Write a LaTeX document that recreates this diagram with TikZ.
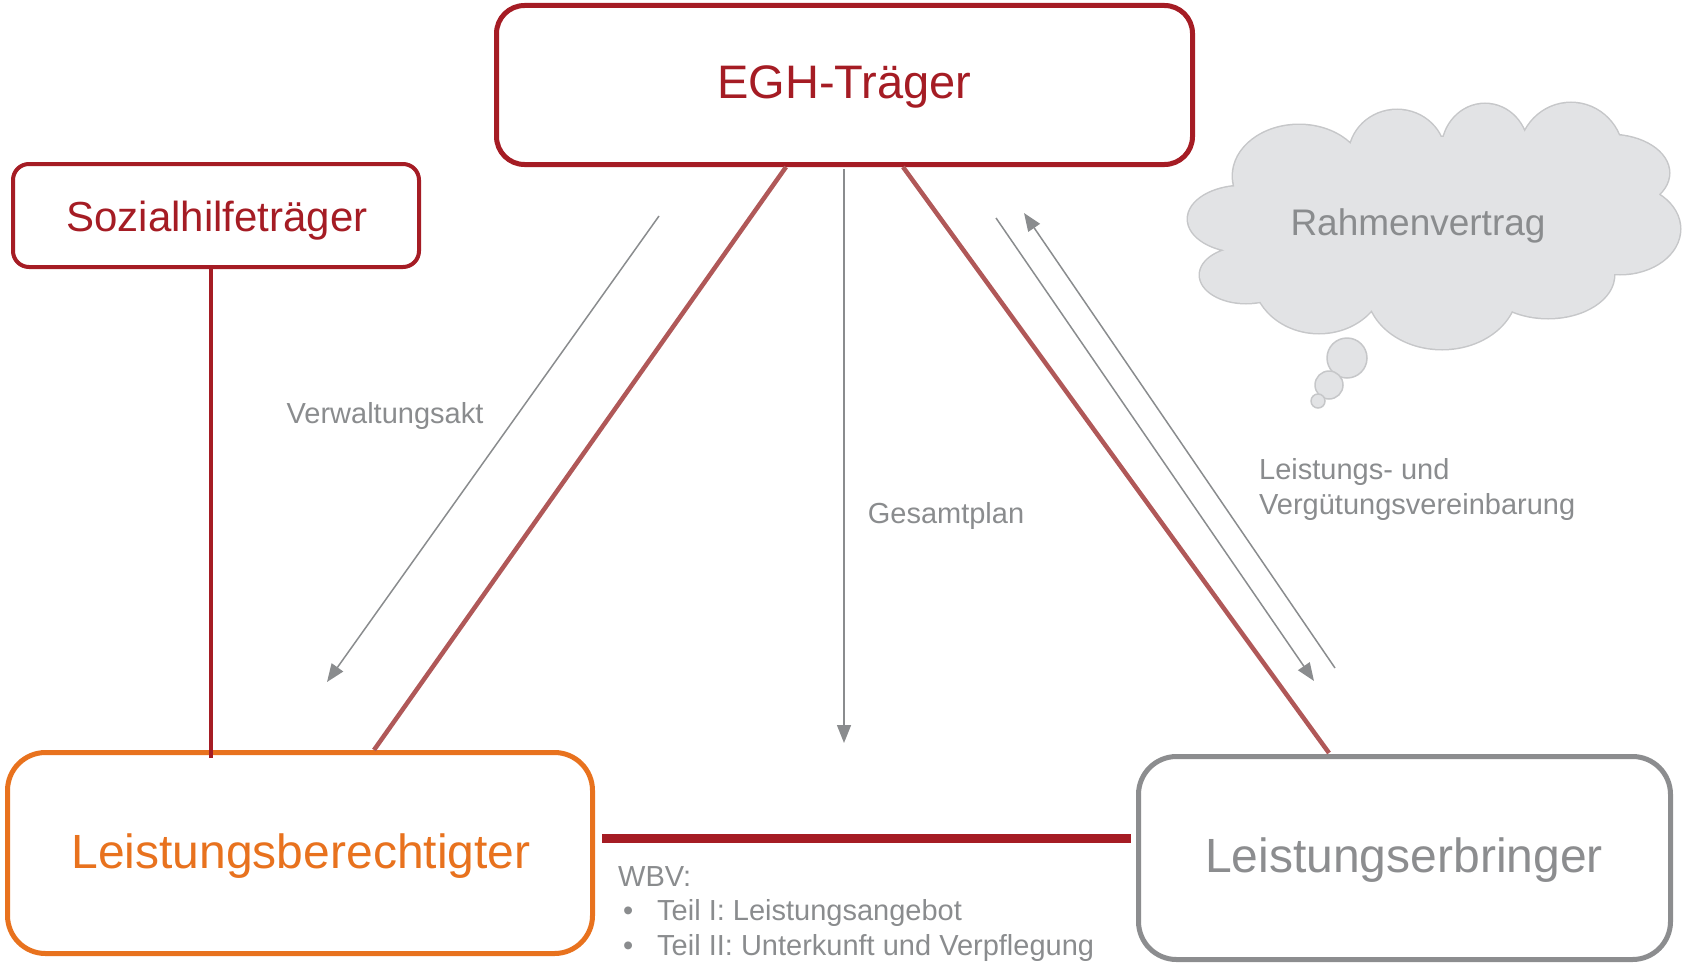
\documentclass[tikz,border=0pt]{standalone}
\usepackage{fontspec}
\setmainfont{Liberation Sans}
\usetikzlibrary{arrows.meta}
\definecolor{dred}{HTML}{A51C24}
\definecolor{lred}{HTML}{B05858}
\definecolor{orng}{HTML}{E8721E}
\definecolor{gbox}{HTML}{8C8D8F}
\definecolor{gtxt}{HTML}{8A8C8E}
\definecolor{cfill}{HTML}{E2E3E5}
\definecolor{cline}{HTML}{C6C7C9}
\tikzset{
  box/.style={draw, rounded corners=#1, fill=white, inner sep=0pt},
  lbl/.style={text=gtxt, font=\fontsize{29}{35}\selectfont, inner sep=0pt},
  garrow/.style={draw=gtxt, line width=1.5pt, -{Triangle[length=18pt,width=14pt]}},
  diag/.style={draw=lred, line width=4.5pt},
}
\begin{document}
\begin{tikzpicture}[x=1pt,y=-1pt]
\useasboundingbox (0,0) rectangle (1685,966);

% cloud
\def\cloudshapes{
  (1243,219) ellipse [x radius=55, y radius=33]
  (1299,176) ellipse [x radius=66, y radius=51]
  (1397,156) ellipse [x radius=48, y radius=46]
  (1485,150) ellipse [x radius=43, y radius=46]
  (1571,156) ellipse [x radius=52, y radius=53]
  (1610,173) ellipse [x radius=59, y radius=38]
  (1620,229) ellipse [x radius=60, y radius=45]
  (1548,275) ellipse [x radius=66, y radius=43]
  (1442,289) ellipse [x radius=75, y radius=60]
  (1319,275) ellipse [x radius=66, y radius=58]
  (1246,275) ellipse [x radius=46, y radius=28]
  (1438,222) ellipse [x radius=165, y radius=85]
}
\draw[cline, line width=3pt] \cloudshapes;
\fill[cfill] \cloudshapes;
\draw[cline, line width=1.5pt, fill=cfill] (1347,358) circle[radius=20];
\draw[cline, line width=1.5pt, fill=cfill] (1329,385) circle[radius=14];
\draw[cline, line width=1.5pt, fill=cfill] (1318,401) circle[radius=7];
\node[text=gtxt, font=\fontsize{37}{44}\selectfont, inner sep=0pt] (rv) at (1418,226) {Rahmenvertrag};

% boxes
\node[box=28pt, draw=dred, line width=5pt, minimum width=696, minimum height=159] (egh) at (844.5,85) {};
\node[text=dred, font=\fontsize{47}{56}\selectfont, inner sep=0pt] (eghT) at (844.5,87) {EGH-Träger};
\node[box=16pt, draw=dred, line width=4pt, minimum width=406, minimum height=103] (sht) at (216,215.5) {};
\node[text=dred, font=\fontsize{42}{50}\selectfont, inner sep=0pt] (shtT) at (217,221) {Sozialhilfeträger};
\node[box=38pt, draw=orng, line width=5pt, minimum width=585, minimum height=201] (lb) at (300,853) {};
\node[text=orng, font=\fontsize{48}{57}\selectfont, inner sep=0pt] (lbT) at (301,856) {Leistungsberechtigter};
\node[box=38pt, draw=gbox, line width=5pt, minimum width=532, minimum height=203] (le) at (1404.5,858) {};
\node[text=gbox, font=\fontsize{48}{57}\selectfont, inner sep=0pt] (leT) at (1404,860) {Leistungserbringer};

% connectors
\coordinate (d1a) at (786,167);
\coordinate (d1b) at (374,750);
\coordinate (d2a) at (903,167);
\coordinate (d2b) at (1329,753);
\draw[diag] (d1a) -- (d1b);
\draw[diag] (d2a) -- (d2b);
\coordinate (s1) at (211,268);
\coordinate (s2) at (211,758);
\draw[dred, line width=3.5pt] (s1) -- (s2);
\coordinate (w1) at (602,838);
\coordinate (w2) at (1131,838);
\draw[dred, line width=9pt] (w1) -- (w2);

% arrows
\coordinate (g1) at (844,169);
\coordinate (g2) at (844,743);
\draw[garrow] (g1) -- (g2);
\coordinate (v1) at (659,216);
\coordinate (v2) at (327,682);
\draw[garrow] (v1) -- (v2);
\coordinate (r1) at (996,218);
\coordinate (r2) at (1314,681);
\draw[garrow] (r1) -- (r2);
\coordinate (r3) at (1335,668);
\coordinate (r4) at (1024,213);
\draw[garrow] (r3) -- (r4);

% labels
\node[lbl] (va) at (385,416) {Verwaltungsakt};
\node[lbl] (gp) at (946,516) {Gesamtplan};
\node[lbl, anchor=west, align=left] (lv) at (1259,489) {Leistungs- und\\Vergütungsvereinbarung};
\node[lbl, anchor=north west, align=left] (wbv) at (618,866) {WBV:\\[-0.5pt]
\makebox[39pt][l]{\kern5pt•}Teil I: Leistungsangebot\\
\makebox[39pt][l]{\kern5pt•}Teil II: Unterkunft und Verpflegung};
\end{tikzpicture}
\end{document}
